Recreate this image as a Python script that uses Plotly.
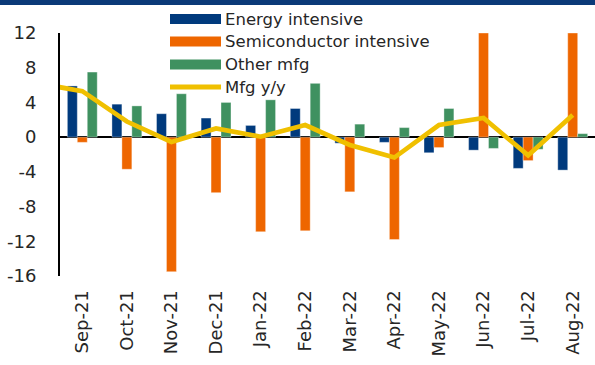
import plotly.graph_objects as go

# Monthly categories; the line series carries one extra leading month (Aug-21)
months = ["Sep-21", "Oct-21", "Nov-21", "Dec-21", "Jan-22", "Feb-22",
          "Mar-22", "Apr-22", "May-22", "Jun-22", "Jul-22", "Aug-22"]
line_months = ["Aug-21"] + months

energy_intensive = [5.9, 3.8, 2.7, 2.2, 1.35, 3.3, -0.7, -0.6, -1.8, -1.5, -3.6, -3.8]
semiconductor_intensive = [-0.6, -3.7, -15.5, -6.4, -10.9, -10.8, -6.3, -11.8, -1.2, 12.0, -2.7, 12.0]
other_mfg = [7.5, 3.6, 5.0, 4.0, 4.3, 6.2, 1.5, 1.1, 3.3, -1.3, -1.4, 0.4]
mfg_yy = [6.2, 5.3, 1.8, -0.55, 1.0, 0.05, 1.4, -0.9, -2.35, 1.4, 2.2, -2.1, 2.55]

series_names = ["Energy intensive", "Semiconductor intensive", "Other mfg", "Mfg y/y"]
colors = ["#003A7D", "#EE6600", "#3F9160", "#F0C000"]
y_ticks = [-16, -12, -8, -4, 0, 4, 8, 12]

FONT = "DejaVu Sans"
TEXT_COLOR = "#262626"
W, H = 595, 365
M_L, M_R, M_T, M_B = 60, 0, 33, 89

fig = go.Figure()
for name, vals, col in zip(series_names[:3],
                           [energy_intensive, semiconductor_intensive, other_mfg],
                           colors[:3]):
    fig.add_trace(go.Bar(x=months, y=vals, name=name, marker_color=col,
                         marker_line=dict(color="rgba(255,255,255,0.6)", width=0.6),
                         showlegend=False))

fig.add_trace(go.Scatter(x=line_months, y=mfg_yy, name=series_names[3], mode="lines",
                         line=dict(color=colors[3], width=4.7), showlegend=False))

# Hand-drawn legend: wide swatches with labels, stacked at the top
plot_w = W - M_L - M_R
plot_h = H - M_T - M_B
def px_x(px):
    return (px - M_L) / plot_w
def px_y(py):
    return 1 - (py - M_T) / plot_h

row_y = [19, 41.5, 64.5, 87]
sw_x0, sw_x1, txt_x = 170, 221, 223
for i, (name, col) in enumerate(zip(series_names, colors)):
    yc = row_y[i]
    if i < 3:
        fig.add_shape(type="rect", xref="paper", yref="paper",
                      x0=px_x(sw_x0), x1=px_x(sw_x1),
                      y0=px_y(yc + 5), y1=px_y(yc - 5),
                      fillcolor=col, line_width=0, layer="above")
    else:
        fig.add_shape(type="line", xref="paper", yref="paper",
                      x0=px_x(sw_x0), x1=px_x(sw_x1), y0=px_y(yc), y1=px_y(yc),
                      line=dict(color=col, width=5), layer="above")
    fig.add_annotation(x=px_x(txt_x), y=px_y(yc), xref="paper", yref="paper",
                       text=name, showarrow=False, xanchor="left", yanchor="middle",
                       font=dict(family=FONT, size=16.5, color=TEXT_COLOR))

# Navy banner across the top
fig.add_shape(type="rect", xref="paper", yref="paper",
              x0=px_x(0), x1=px_x(W), y0=px_y(5), y1=px_y(0),
              fillcolor="#0B3A78", line_width=0, layer="above")

fig.update_layout(
    width=W, height=H,
    margin=dict(l=M_L, r=M_R, t=M_T, b=M_B, pad=0),
    paper_bgcolor="white", plot_bgcolor="white",
    barmode="group", bargap=0.33, bargroupgap=0,
    font=dict(family=FONT, color=TEXT_COLOR),
    showlegend=False,
)
fig.update_xaxes(type="category", categoryorder="array", categoryarray=line_months,
                 range=[0.5, 12.5], tickvals=months, ticktext=months,
                 tickangle=-90, tickfont=dict(size=18, family=FONT, color=TEXT_COLOR),
                 showgrid=False, showline=False, zeroline=False,
                 ticks="outside", ticklen=6, tickcolor="rgba(0,0,0,0)")
fig.update_yaxes(range=[-16, 12], tickvals=y_ticks, ticktext=[str(v) for v in y_ticks],
                 tickfont=dict(size=18, family=FONT, color=TEXT_COLOR),
                 showgrid=False, showline=True, linecolor="black", linewidth=2,
                 zeroline=True, zerolinecolor="black", zerolinewidth=2,
                 ticks="outside", ticklen=18, tickcolor="rgba(0,0,0,0)")

fig.write_html("out.html")
